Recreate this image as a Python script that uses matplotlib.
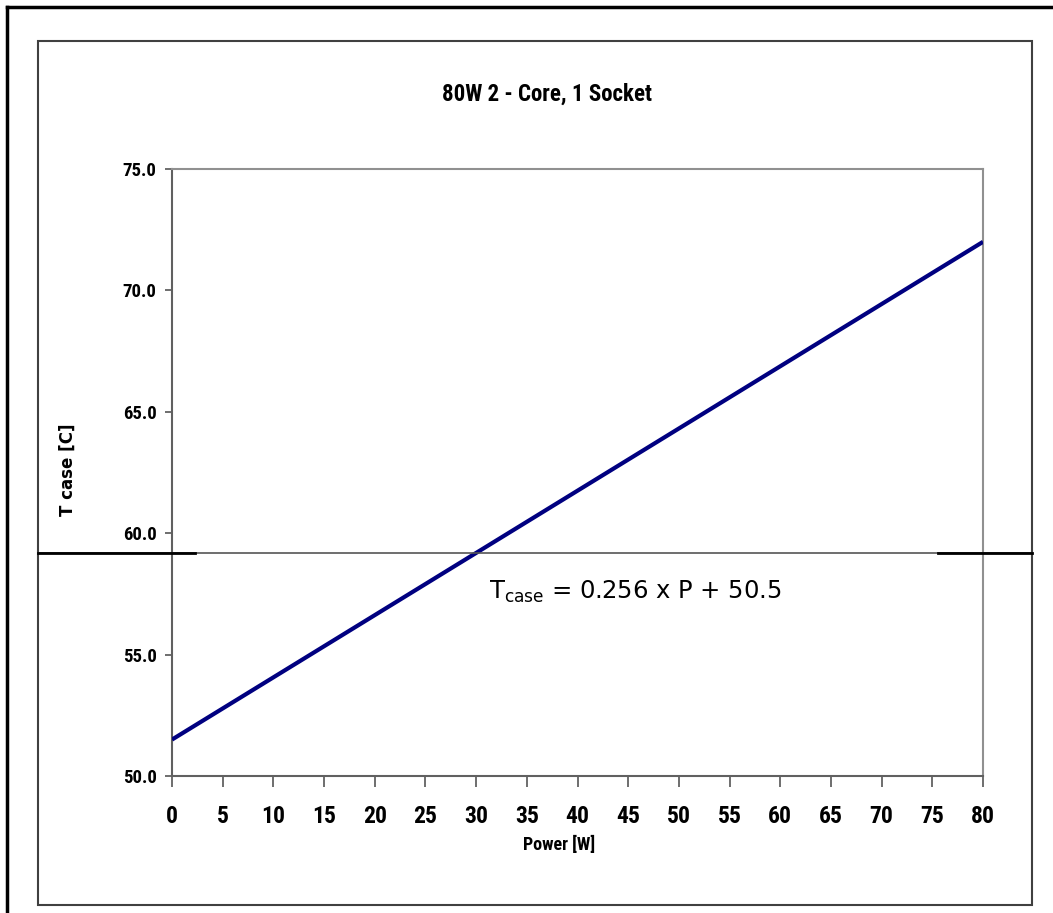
import matplotlib
matplotlib.use("Agg")
import matplotlib.pyplot as plt
from matplotlib.lines import Line2D
from matplotlib.patches import Rectangle
import matplotlib.transforms as mtransforms
from matplotlib import font_manager

# ---- data ----
power = [0, 80]
t_case = [51.5, 72.0]
x_ticks = list(range(0, 85, 5))
y_ticks = [50.0, 55.0, 60.0, 65.0, 70.0, 75.0]
ref_level = 59.2
title = "80W 2 - Core, 1 Socket"
x_label = "Power [W]"
y_label = "T case [C]"
formula = r"T$_{\mathregular{case}}$ = 0.256 x P + 50.5"
formula_pos = (31.3, 57.3)

names = {f.name for f in font_manager.fontManager.ttflist}
narrow = "DejaVu Sans"
for cand in ["Roboto Condensed", "Archivo Narrow", "PT Sans Narrow", "Liberation Sans Narrow"]:
    if cand in names:
        narrow = cand
        break

W, H = 1053, 913
fig = plt.figure(figsize=(W / 100, H / 100), dpi=100)
fig.patch.set_facecolor("white")

def fx(px):
    return px / W

def fy(py):
    return 1 - py / H

ax = fig.add_axes([fx(172), fy(776), fx(983) - fx(172), fy(169) - fy(776)])
ax.plot(power, t_case, color="#000080", lw=3.0, solid_capstyle="butt", zorder=3)
ax.set_xlim(0, 80)
ax.set_ylim(50, 75)
ax.set_xticks(x_ticks)
ax.set_xticklabels([str(v) for v in x_ticks], fontfamily=narrow, fontweight="bold", fontsize=17)
ax.set_yticks(y_ticks)
ax.set_yticklabels([f"{v:.1f}" for v in y_ticks], fontfamily=narrow, fontweight="bold", fontsize=13.5)
ax.tick_params(axis="x", direction="out", length=8, width=1.2, color="#555555", pad=13)
ax.tick_params(axis="y", direction="out", length=5, width=1.2, color="#555555", pad=6)
for s in ["left", "bottom"]:
    ax.spines[s].set_color("#606060")
    ax.spines[s].set_linewidth(1.5)
for s in ["top", "right"]:
    ax.spines[s].set_color("#909090")
    ax.spines[s].set_linewidth(1.5)

ax.text(formula_pos[0], formula_pos[1], formula, fontfamily="DejaVu Sans", fontsize=17.5,
        va="baseline", ha="left")

# reference horizontal line (across the chart area)
trans = mtransforms.blended_transform_factory(fig.transFigure, ax.transData)
fig.add_artist(Line2D([fx(38), fx(1032)], [ref_level, ref_level], transform=trans,
                      color="#555555", lw=1.2, zorder=5))
fig.add_artist(Line2D([fx(38), fx(195)], [ref_level, ref_level], transform=trans,
                      color="black", lw=2.0, zorder=6))
fig.add_artist(Line2D([fx(938), fx(1032)], [ref_level, ref_level], transform=trans,
                      color="black", lw=2.0, zorder=6))

# titles
fig.text(fx(547), fy(94), title, fontfamily=narrow, fontweight="bold", fontsize=16.5,
         ha="center", va="center")
fig.text(fx(559), fy(845), x_label, fontfamily=narrow, fontweight="bold", fontsize=13,
         ha="center", va="center")
fig.text(fx(68), fy(470), y_label, fontfamily="DejaVu Sans", fontweight="bold", fontsize=12,
         ha="center", va="center", rotation=90)

# chart area border
fig.add_artist(Rectangle((fx(38), fy(905)), fx(1032) - fx(38), fy(41) - fy(905),
                         transform=fig.transFigure, fill=False, edgecolor="#404040", lw=1.5))
# outer border (left and top)
fig.add_artist(Line2D([fx(7), fx(7)], [fy(7), 0], transform=fig.transFigure, color="black", lw=2.5))
fig.add_artist(Line2D([fx(7), 1], [fy(7), fy(7)], transform=fig.transFigure, color="black", lw=2.5))

fig.savefig("out.png", dpi=100)
